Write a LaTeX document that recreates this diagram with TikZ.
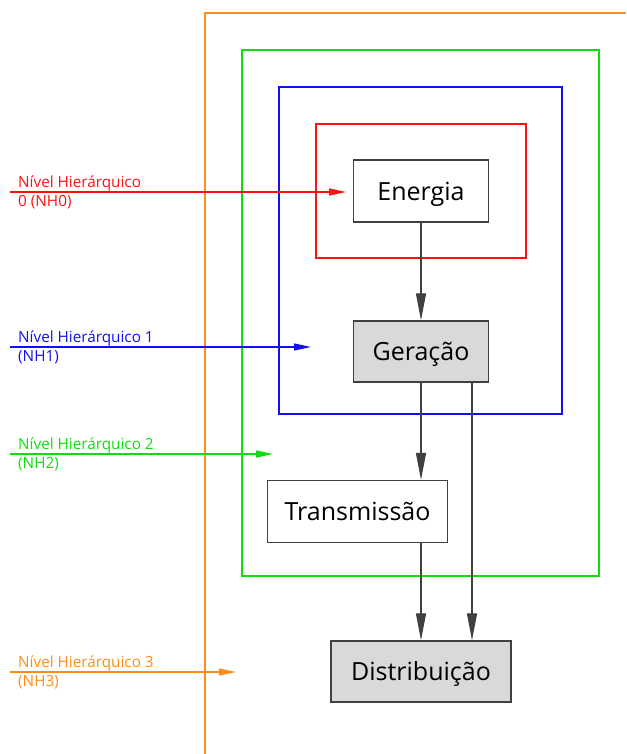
\documentclass[tikz,border=0pt]{standalone}
\usepackage{fontspec}
\setmainfont{Open Sans}
\usetikzlibrary{arrows.meta}
\definecolor{nhred}{HTML}{FF1010}
\definecolor{nhblue}{HTML}{1010F0}
\definecolor{nhgreen}{HTML}{10DD10}
\definecolor{nhorange}{HTML}{FF8C1A}
\definecolor{boxgray}{HTML}{D9D9D9}
\definecolor{boxline}{HTML}{404040}
\begin{document}
\begin{tikzpicture}[x=1pt,y=-1pt,
  level/.style={line width=2pt},
  levelarrow/.style={line width=1.3pt,-{Triangle[length=17pt,width=7pt]}},
  levellabel/.style={anchor=west,inner sep=0pt,align=left,
    font=\fontsize{15.3}{19}\selectfont},
  block/.style={draw=boxline,line width=1.3pt,inner sep=0pt,
    text height=18pt,text depth=0pt,
    font=\fontsize{25}{28}\selectfont},
  flow/.style={draw=boxline,line width=1.2pt,-{Triangle[length=27pt,width=10pt]}}]
\useasboundingbox (0,0) rectangle (626,754);

% nested hierarchy frames
\draw[level,nhorange] (205,754) -- (205,13) -- (626,13);
\draw[level,nhgreen] (242,50) rectangle (599,576);
\draw[level,nhblue] (279,87) rectangle (562,414);
\draw[level,nhred] (316,124) rectangle (526,258);

% energy chain blocks
\node[block,fill=white,minimum width=135pt,minimum height=62pt] (energia) at (421,191) {Energia};
\node[block,fill=boxgray,minimum width=135pt,minimum height=61pt] (geracao) at (421,351.5) {Geração};
\node[block,fill=white,minimum width=180pt,minimum height=62pt] (transm) at (357.5,511.5) {Transmissão};
\node[block,fill=boxgray,minimum width=180pt,minimum height=61pt] (distrib) at (421,671.5) {Distribuição};

% connections between blocks
\draw[flow] (energia.south) -- (geracao.north);
\draw[flow] (geracao.south) -- (geracao.south |- transm.north);
\draw[flow] (transm.south -| distrib.north) -- (distrib.north);
\draw[flow] ([xshift=51pt]geracao.south) -- ([xshift=51pt]distrib.north);

% hierarchy level labels and pointers
\coordinate (s0) at (10,192);  \coordinate (e0) at (346,192);
\coordinate (s1) at (10,347);  \coordinate (e1) at (311,347);
\coordinate (s2) at (10,454);  \coordinate (e2) at (273,454);
\coordinate (s3) at (10,672);  \coordinate (e3) at (236,672);

\draw[levelarrow,nhred] (s0) -- (e0);
\draw[levelarrow,nhblue] (s1) -- (e1);
\draw[levelarrow,nhgreen] (s2) -- (e2);
\draw[levelarrow,nhorange] (s3) -- (e3);

\node[levellabel,text=nhred] (l0) at (18,192) {Nível Hierárquico\\0 (NH0)};
\node[levellabel,text=nhblue] (l1) at (18,347) {Nível Hierárquico 1\\(NH1)};
\node[levellabel,text=nhgreen] (l2) at (18,454) {Nível Hierárquico 2\\(NH2)};
\node[levellabel,text=nhorange] (l3) at (18,672) {Nível Hierárquico 3\\(NH3)};
\end{tikzpicture}
\end{document}
